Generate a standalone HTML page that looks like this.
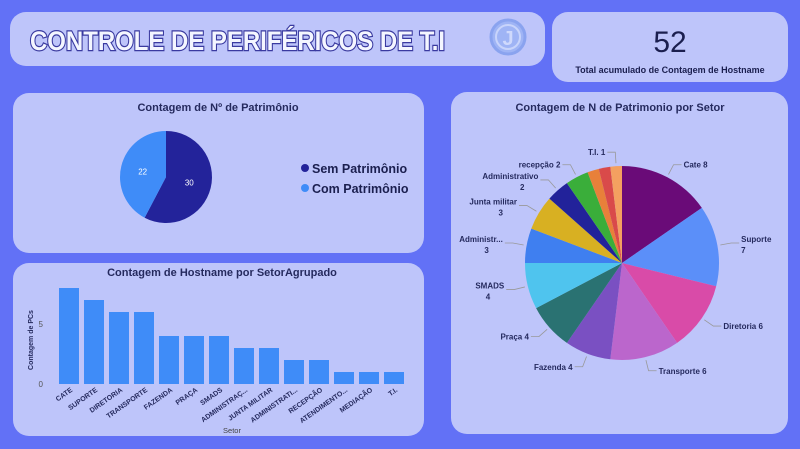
<!DOCTYPE html>
<html><head><meta charset="utf-8"><style>
body{margin:0;width:800px;height:449px;background:#6271f6;font-family:"Liberation Sans",sans-serif;overflow:hidden;position:relative}
.p{position:absolute;background:#bec5fa;border-radius:16px}
svg{position:absolute;left:0;top:0}
</style></head><body>
<div class="p" style="left:10px;top:12px;width:535px;height:54px"></div>
<div class="p" style="left:552px;top:12px;width:236px;height:70px"></div>
<div class="p" style="left:13px;top:93px;width:411px;height:160px"></div>
<div class="p" style="left:13px;top:263px;width:411px;height:173px"></div>
<div class="p" style="left:451px;top:92px;width:337px;height:342px"></div>
<svg width="800" height="449" id="s">
<text x="30" y="50" font-size="27" font-weight="bold" fill="#f4f6ff" stroke="#3a3aa0" stroke-width="2.4" paint-order="stroke" font-family="Liberation Sans Narrow, Liberation Sans, sans-serif" textLength="415" lengthAdjust="spacingAndGlyphs">CONTROLE DE PERIFÉRICOS DE T.I</text>
<g><circle cx="508" cy="37" r="17" fill="#9fb4f5" stroke="#8aa3ef" stroke-width="3"/><circle cx="508" cy="37" r="12" fill="none" stroke="#c8d4fb" stroke-width="2"/><text x="508" y="45" font-size="20" font-weight="bold" text-anchor="middle" fill="#cfd9fc">J</text></g>
<text x="670" y="52" font-size="30" text-anchor="middle" fill="#1b1f4f">52</text>
<text x="670" y="73" font-size="9" font-weight="bold" text-anchor="middle" fill="#1b1f4f">Total acumulado de Contagem de Hostname</text>
<text x="218" y="111" font-size="11" font-weight="bold" text-anchor="middle" fill="#252a5e">Contagem de Nº de Patrimônio</text>
<g id="pie1"></g>
<g><circle cx="305" cy="168" r="4" fill="#23239a"/><text x="312" y="173" font-size="12.5" font-weight="bold" fill="#1b1f4f">Sem Patrimônio</text></g>
<g><circle cx="305" cy="188" r="4" fill="#3f8cf8"/><text x="312" y="193" font-size="12.5" font-weight="bold" fill="#1b1f4f">Com Patrimônio</text></g>
<text x="222" y="276" font-size="11" font-weight="bold" text-anchor="middle" fill="#252a5e">Contagem de Hostname por SetorAgrupado</text>
<text transform="translate(33,340) rotate(-90)" font-size="7" font-weight="bold" text-anchor="middle" fill="#252a5e">Contagem de PCs</text>
<text x="232" y="433" font-size="7.5" text-anchor="middle" fill="#444">Setor</text>
<g id="bars"></g>
<text x="620" y="111" font-size="11" font-weight="bold" text-anchor="middle" fill="#252a5e">Contagem de N de Patrimonio por Setor</text>
<g id="pie2"></g>
</svg>
<script>
const NS="http://www.w3.org/2000/svg";
const patLabels=["Sem Patrimônio","Com Patrimônio"];
const patValues=[30,22];
const patColors=["#23239a","#3f8cf8"];
const barCats=["CATE","SUPORTE","DIRETORIA","TRANSPORTE","FAZENDA","PRAÇA","SMADS","ADMINISTRAÇ...","JUNTA MILITAR","ADMINISTRATI...","RECEPÇÃO","ATENDIMENTO...","MEDIAÇÃO","T.I."];
const barValues=[8,7,6,6,4,4,4,3,3,2,2,1,1,1];
const yTicks=[0,5];
const secLabels=["Cate","Suporte","Diretoria","Transporte","Fazenda","Praça","SMADS","Administr...","Junta militar","Administrativo","recepção","Outro","Outro2","T.I."];
const secValues=[8,7,6,6,4,4,4,3,3,2,2,1,1,1];
const secColors=["#6a0b78","#5b8ff9","#d94ba8","#bb66cc","#7a50c2","#2a7272","#4fc4ee","#3f7ff0","#d8b022","#22229a","#3aae3a","#e8803a","#d94a4a","#f4a060"];
function el(t,a,p){const e=document.createElementNS(NS,t);for(const k in a)e.setAttribute(k,a[k]);p.appendChild(e);return e;}
function pie(g,cx,cy,r,vals,cols,name){const tot=vals.reduce((a,b)=>a+b,0);let a0=-Math.PI/2;const mids=[];
vals.forEach((v,i)=>{const a1=a0+v/tot*2*Math.PI;const x0=cx+r*Math.cos(a0),y0=cy+r*Math.sin(a0),x1=cx+r*Math.cos(a1),y1=cy+r*Math.sin(a1);
const p=el("path",{d:`M${cx},${cy}L${x0},${y0}A${r},${r} 0 ${a1-a0>Math.PI?1:0} 1 ${x1},${y1}Z`,fill:cols[i]},g);


mids.push((a0+a1)/2);a0=a1;});return mids;}
const m1=pie(document.getElementById("pie1"),166,177,46,patValues,patColors,"patrimonio");
patValues.forEach((v,i)=>{const t=el("text",{x:166+24*Math.cos(m1[i]),y:177+24*Math.sin(m1[i])+3,"font-size":8,fill:"#fff","text-anchor":"middle"},document.getElementById("pie1"));t.textContent=v;

});
const bg=document.getElementById("bars");const y0=384,ppu=12,x0=59,step=25,bw=20;
const ys=v=>y0-v*ppu;
yTicks.forEach(t=>{const e=el("text",{x:43,y:ys(t)+3,"font-size":8,fill:"#555","text-anchor":"end"},bg);e.textContent=t;

});
barCats.forEach((c,i)=>{const r=el("rect",{x:x0+i*step,y:ys(barValues[i]),width:bw,height:barValues[i]*ppu,fill:"#3f8cf8"},bg);


const cx=x0+i*step+bw/2+4;const t=el("text",{transform:`translate(${cx},${y0+7}) rotate(-35)`,"font-size":7,"font-weight":"bold",fill:"#252a5e","text-anchor":"end"},bg);t.textContent=c;

});
const g2=document.getElementById("pie2");const cx=622,cy=263,R=97;
const m2=pie(g2,cx,cy,R,secValues,secColors,"sector");
const show={0:1,1:1,2:1,3:1,4:1,5:1,6:1,7:1,8:1,9:1,10:1,13:1};
m2.forEach((a,i)=>{if(!show[i])return;const x1=cx+(R+3)*Math.cos(a),y1=cy+(R+3)*Math.sin(a),x2=cx+(R+14)*Math.cos(a),y2=cy+(R+14)*Math.sin(a);
const right=Math.cos(a)>=0;const x3=x2+(right?8:-8);
const l=el("polyline",{points:`${x1},${y1} ${x2},${y2} ${x3},${y2}`,fill:"none",stroke:"#999","stroke-width":0.8},g2);


const lab=secLabels[i]+" "+secValues[i];const two=i==1||i==6||i==7||i==8||i==9;
const t=el("text",{x:x3+(right?2:-2),y:y2+3,"font-size":8,"font-weight":"bold",fill:"#252a5e","text-anchor":right?"start":"end"},g2);


if(two){t.setAttribute("y",y2-1);const s1=el("tspan",{},t);s1.textContent=secLabels[i];const s2=el("tspan",{x:x3+(right?2:-2),dy:11},t);s2.textContent=secValues[i];if(!right){s2.setAttribute("x",x3-16);}}else t.textContent=lab;});
</script>
</body></html>
